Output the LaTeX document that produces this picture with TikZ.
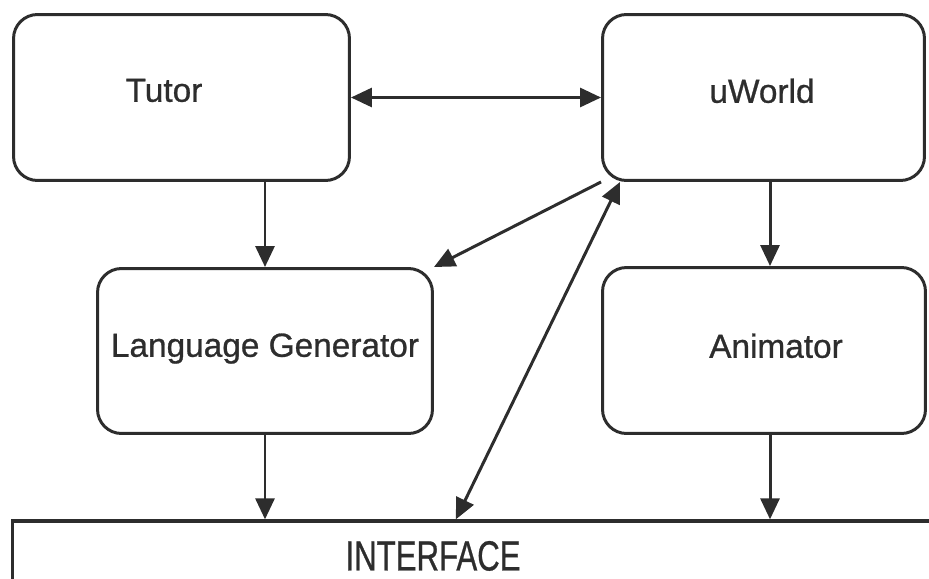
\documentclass[tikz,border=0pt]{standalone}
\usepackage{fontspec}
\setmainfont{Liberation Sans}[FakeBold=0.8]
\usepackage{tikz}
\usetikzlibrary{
	positioning,
	arrows.meta,
	calc
}
\definecolor{InkGray}{RGB}{45,45,45}

\begin{document}
\begin{tikzpicture}[
				x=0.02cm,
				y=-0.02cm,
				>={Triangle[length=0.42cm,width=0.38cm]},
				every node/.style={
					font=\fontsize{19}{22}\selectfont,
					text=InkGray
				},
				block/.style={
					draw=InkGray,
					line width=1.7pt,
					rounded corners=0.48cm,
					minimum height=3.32cm,
					inner sep=0pt
				},
				blocklabel/.style={
					text height=13.4pt,
					text depth=0pt,
					inner sep=0pt
				},
				link/.style={
					->,
					line width=1.7pt,
					InkGray
				}
				]
				
				\useasboundingbox (0,0) rectangle (929,578);
				\clip (0,0) rectangle (929,578);
				
				\node[
				block,
				minimum width=6.72cm,
				label={[blocklabel, xshift=-0.35cm, yshift=0.15cm]center:Tutor}
				] (tutor) at (181.5,97.5) {};
				
				\node[
				block,
				minimum width=6.44cm,
				label={[blocklabel, xshift=-0.03cm, yshift=0.13cm]center:uWorld}
				] (uworld) at (763.5,97.5) {};
				
				\node[
				block,
				minimum width=6.7cm,
				minimum height=3.3cm,
				label={[blocklabel, yshift=0.12cm]center:Language Generator}
				] (lang) at (265,351) {};
				
				\node[
				block,
				minimum width=6.46cm,
				label={[blocklabel, xshift=0.24cm, yshift=0.09cm]center:Animator}
				] (animator) at (764,350.5) {};
				
				% interface runs off the page to the right and bottom
				\node[
				draw=InkGray,
				line width=1.9pt,
				minimum width=19.75cm,
				minimum height=2.38cm,
				inner sep=0pt,
				label={[blocklabel, text height=17pt, font=\fontsize{24}{28}\selectfont, xshift=-1.465cm, yshift=0.5cm]center:\scalebox{0.74}[1]{INTERFACE}}
				] (iface) at (506.25,580.5) {};
				
				\coordinate (anix) at (770,0);
				
				\draw[link, <->] (tutor) -- (uworld);
				
				\draw[link] (tutor.south -| lang.north) -- (lang.north);
				
				\draw[link] (uworld.south -| anix) -- (animator.north -| anix);
				
				\draw[link] (uworld.south west) -- (lang.north east);
				
				\draw[link, <->] ([xshift=0.38cm]uworld.south west) -- ([xshift=8.9cm]iface.north west);
				
				\draw[link] (lang) -- (lang |- iface.north);
				
				\draw[link] (animator.south -| anix) -- (iface.north -| anix);
				
\end{tikzpicture}
\end{document}
